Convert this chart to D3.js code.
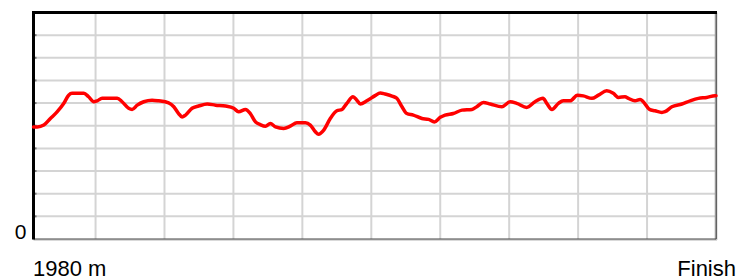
<!DOCTYPE html>
<html>
<head>
<meta charset="utf-8">
<script src="https://cdn.jsdelivr.net/npm/d3@7"></script>
<style>
  body { margin: 0; background: #fff; }
  text { font-family: "Liberation Sans", Arial, sans-serif; fill: #000; }
</style>
</head>
<body>
<script>
// race distance (m) and value along the course
const totalDistance = 1980;
const distances = [0, 11, 30, 49, 69, 88, 102, 112, 146, 160, 175, 185, 199, 243, 257, 276, 286, 301, 320, 344,
  363, 392, 407, 421, 431, 441, 460, 479, 504, 528, 557, 581, 595, 615, 629, 644, 658, 673, 687, 702,
  726, 745, 764, 789, 803, 818, 827, 842, 861, 880, 895, 909, 927, 938, 948, 967, 991, 1006, 1020, 1040,
  1054, 1069, 1083, 1102, 1127, 1146, 1163, 1180, 1194, 1218, 1243, 1272, 1286, 1305, 1325, 1359, 1383, 1402, 1431, 1455,
  1478, 1489, 1504, 1523, 1537, 1557, 1578, 1595, 1620, 1639, 1663, 1682, 1697, 1716, 1726, 1745, 1760, 1769, 1787, 1803,
  1823, 1832, 1852, 1881, 1905, 1929, 1953, 1977, 1980];
const values = [4.95, 4.95, 5.03, 5.32, 5.62, 5.99, 6.35, 6.43, 6.43, 6.28, 6.06, 6.10, 6.21, 6.21, 6.06, 5.77, 5.72, 5.91, 6.06, 6.13,
  6.10, 6.01, 5.84, 5.54, 5.39, 5.47, 5.77, 5.87, 5.96, 5.91, 5.87, 5.77, 5.62, 5.72, 5.54, 5.17, 5.05, 4.98, 5.10, 4.95,
  4.88, 4.98, 5.13, 5.13, 5.03, 4.73, 4.63, 4.81, 5.32, 5.66, 5.72, 5.99, 6.28, 6.13, 5.96, 6.10, 6.33, 6.45, 6.40, 6.31,
  6.21, 5.84, 5.54, 5.47, 5.32, 5.28, 5.17, 5.37, 5.47, 5.54, 5.69, 5.72, 5.84, 6.03, 5.96, 5.84, 6.06, 5.99, 5.81, 6.06,
  6.21, 5.99, 5.72, 5.99, 6.10, 6.10, 6.35, 6.32, 6.21, 6.35, 6.54, 6.43, 6.25, 6.28, 6.21, 6.10, 6.16, 6.06, 5.72, 5.66,
  5.59, 5.62, 5.84, 5.96, 6.10, 6.21, 6.25, 6.33, 6.33];
const yTicks = d3.range(0, 11);
const gridStep = 200; // metres, counted back from the finish
const startLabel = '1980 m';
const endLabel = 'Finish';
const zeroLabel = '0';

const width = 737;
const height = 280;
const margin = {top: 12.5, right: 21, bottom: 41, left: 33.5};

const svg = d3.select('body').append('svg')
    .attr('width', width)
    .attr('height', height);

const x = d3.scaleLinear()
    .domain([0, totalDistance])
    .range([margin.left, width - margin.right]);

const y = d3.scaleLinear()
    .domain([0, 10])
    .range([height - margin.bottom, margin.top]);

const grid = svg.append('g')
    .attr('stroke', '#d4d4d4')
    .attr('stroke-width', 2);

grid.selectAll('line.h')
  .data(yTicks.slice(1, -1))
  .join('line')
    .attr('class', 'h')
    .attr('x1', x(0))
    .attr('x2', x(totalDistance))
    .attr('y1', d => y(d))
    .attr('y2', d => y(d));

const vTicks = d3.range(totalDistance - gridStep, 0, -gridStep);
grid.selectAll('line.v')
  .data(vTicks)
  .join('line')
    .attr('class', 'v')
    .attr('x1', d => x(d))
    .attr('x2', d => x(d))
    .attr('y1', y(10))
    .attr('y2', y(0));

// small ticks on the left axis
svg.append('g')
    .attr('stroke', '#777')
    .attr('stroke-width', 2)
  .selectAll('line')
  .data(yTicks.slice(1, -1))
  .join('line')
    .attr('x1', x(0))
    .attr('x2', x(0) + 3)
    .attr('y1', d => y(d))
    .attr('y2', d => y(d));

// frame
svg.append('line')
    .attr('x1', x(totalDistance)).attr('x2', x(totalDistance))
    .attr('y1', y(10)).attr('y2', y(0) + 1)
    .attr('stroke', '#999').attr('stroke-width', 2.5);
svg.append('line')
    .attr('x1', x(totalDistance) + 0.5).attr('x2', x(totalDistance) + 0.5)
    .attr('y1', y(10)).attr('y2', y(0))
    .attr('stroke', '#555').attr('stroke-width', 0.8);
svg.append('line')
    .attr('x1', x(0)).attr('x2', x(totalDistance) + 1)
    .attr('y1', y(0) + 1).attr('y2', y(0) + 1)
    .attr('stroke', '#ccc').attr('stroke-width', 1.5);
svg.append('line')
    .attr('x1', x(0)).attr('x2', x(totalDistance))
    .attr('y1', y(0)).attr('y2', y(0))
    .attr('stroke', '#444').attr('stroke-width', 1.2);
svg.append('line')
    .attr('x1', x(0) - 1.5).attr('x2', x(totalDistance) + 1)
    .attr('y1', y(10)).attr('y2', y(10))
    .attr('stroke', '#000').attr('stroke-width', 3);
svg.append('line')
    .attr('x1', x(0)).attr('x2', x(0))
    .attr('y1', y(10) - 1.5).attr('y2', y(0) + 0.5)
    .attr('stroke', '#000').attr('stroke-width', 3);

const data = distances.map((d, i) => ({d, v: values[i]}));

const line = d3.line()
    .x(p => x(p.d))
    .y(p => y(p.v))
    .curve(d3.curveMonotoneX);

svg.append('path')
    .datum(data)
    .attr('fill', 'none')
    .attr('stroke', '#ff0000')
    .attr('stroke-width', 3.5)
    .attr('stroke-linejoin', 'round')
    .attr('stroke-linecap', 'round')
    .attr('d', line);

svg.append('text')
    .attr('x', x(0) - 7)
    .attr('y', y(0))
    .attr('text-anchor', 'end')
    .attr('font-size', 21)
    .text(zeroLabel);

svg.append('text')
    .attr('x', x(0) - 0.5)
    .attr('y', 275.5)
    .attr('font-size', 22)
    .text(startLabel);

svg.append('text')
    .attr('x', width - 1)
    .attr('y', 275.5)
    .attr('text-anchor', 'end')
    .attr('font-size', 22)
    .text(endLabel);
</script>
</body>
</html>
